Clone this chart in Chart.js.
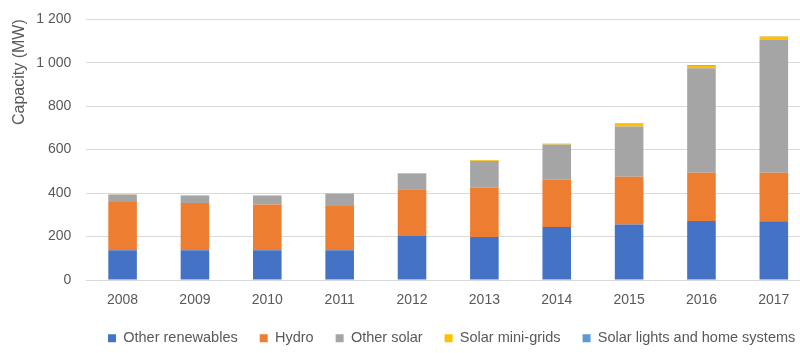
<!DOCTYPE html>
<html>
<head>
<meta charset="utf-8">
<script src="https://cdn.jsdelivr.net/npm/chart.js@4/dist/chart.umd.min.js"></script>
<style>
  html, body { margin: 0; padding: 0; background: #fff; overflow: hidden; }
  #wrap { position: relative; width: 810px; height: 353px; }
</style>
</head>
<body>
<div id="wrap"><canvas id="c"></canvas></div>
<script>
const years = ['2008','2009','2010','2011','2012','2013','2014','2015','2016','2017'];
const otherRenewables = [137, 137, 137, 137, 203, 198, 244, 255, 272, 270];
const hydro           = [222, 217, 210, 203, 214, 227, 217, 220, 221, 223];
const otherSolar      = [34, 35, 41, 57, 72, 123, 161, 231, 481, 611];
const solarMiniGrids  = [1, 1, 2, 2, 3, 3, 3, 13, 11, 16];
const solarLights     = [0, 0, 0, 0, 0, 1, 2, 2, 3, 2];
const seriesNames = ['Other renewables', 'Hydro', 'Other solar', 'Solar mini-grids', 'Solar lights and home systems'];
const seriesColors = ['#4472C4', '#ED7D31', '#A5A5A5', '#FFC000', '#5B9BD5'];
const yTicks = [0, 200, 400, 600, 800, 1000, 1200];

const FONT = "'Liberation Sans', Arial, sans-serif";
const TXT = '#595959';

const seriesData = [otherRenewables, hydro, otherSolar, solarMiniGrids, solarLights];

const placeLegend = {
  id: 'placeLegend',
  beforeLayout(chart) {
    const lg = chart.legend;
    if (lg && !lg._wrappedFit) {
      const orig = lg.fit.bind(lg);
      lg.fit = function () { orig(); this.height = 40; };
      lg._wrappedFit = true;
    }
  },
  afterLayout(chart) {
    const lg = chart.legend;
    if (!lg) return;
    lg.left = 86; lg.right = lg.left + lg.width;
    lg.top = 309; lg.bottom = lg.top + lg.height;
  }
};

new Chart(document.getElementById('c'), {
  type: 'bar',
  data: {
    labels: years,
    datasets: seriesData.map((d, i) => ({
      label: seriesNames[i],
      data: d,
      backgroundColor: seriesColors[i],
      borderWidth: 0,
      barPercentage: 0.395,
      categoryPercentage: 1.0
    }))
  },
  options: {
    responsive: true,
    maintainAspectRatio: false,
    animation: false,
    layout: { padding: { left: 0, right: 0, top: 0, bottom: 0 } },
    plugins: {
      legend: {
        position: 'bottom',
        align: 'start',
        labels: {
          boxWidth: 8, boxHeight: 8, padding: 22,
          color: TXT,
          font: { family: FONT, size: 14.5 }
        }
      },
      tooltip: { enabled: false }
    },
    scales: {
      x: {
        stacked: true,
        grid: { display: false, drawTicks: false },
        border: { display: false },
        ticks: { color: TXT, font: { family: FONT, size: 14 }, padding: 12 },
        afterFit(axis) { axis.height = 33; }
      },
      y: {
        stacked: true,
        min: 0, max: 1200,
        afterBuildTicks(axis) { axis.ticks = yTicks.map(v => ({ value: v })); },
        afterFit(axis) { axis.width = 86.4; },
        grid: { color: '#D9D9D9', drawTicks: false, lineWidth: 1 },
        border: { display: false },
        ticks: {
          color: TXT, font: { family: FONT, size: 14, lineHeight: 0.6 }, padding: 15,
          callback: v => String(v).replace(/\B(?=(\d{3})+(?!\d))/g, ' ')
        },
        title: {
          display: true, text: 'Capacity (MW)', align: 'end',
          color: TXT, font: { family: FONT, size: 16 }, padding: { top: 10, bottom: 4 }
        }
      }
    }
  },
  plugins: [placeLegend]
});
</script>
</body>
</html>
